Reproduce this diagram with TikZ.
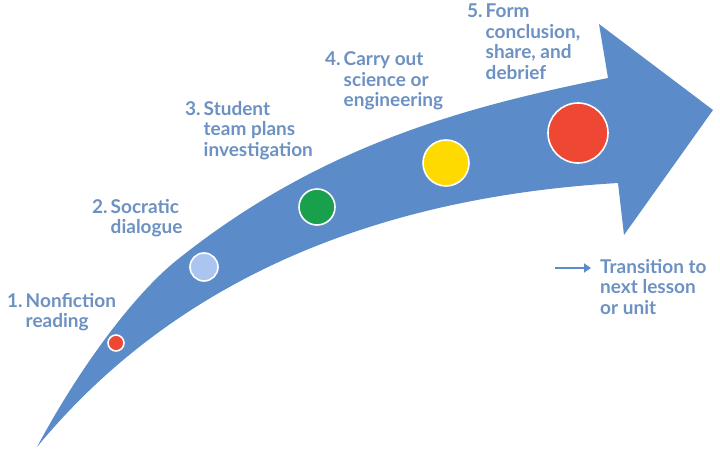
\documentclass[tikz,border=0pt]{standalone}
\usepackage{fontspec}
\setmainfont{Lato}
\usetikzlibrary{arrows.meta}
\definecolor{arrowblue}{RGB}{91,140,201}
\definecolor{labelblue}{RGB}{108,145,194}
\definecolor{dotred}{RGB}{238,72,52}
\definecolor{dotlight}{RGB}{170,198,240}
\definecolor{dotgreen}{RGB}{24,160,76}
\definecolor{dotyellow}{RGB}{255,218,0}
\newcommand{\stepitem}[2]{\begin{tabular}[t]{@{}l@{\hspace{3pt}}l@{}}#1&\begin{tabular}[t]{@{}l@{}}#2\end{tabular}\end{tabular}}
\tikzset{
  stepdot/.style={circle,draw=white,line width=1.6pt,inner sep=0pt},
  steplabel/.style={anchor=base west,inner sep=0pt,text=labelblue}
}
\begin{document}
\begin{tikzpicture}[x=1pt,y=-1pt,every node/.style={font=\fontsize{19}{20.5}\selectfont\bfseries}]
  \useasboundingbox (0,0) rectangle (720,452);
  % arrow body
  \fill[arrowblue] (37,447) .. controls (77,372) and (132,296) .. (177,260)
    .. controls (317,148) and (458,108) .. (608,78) -- (599,24) -- (713,110)
    -- (624,235) -- (618,183) .. controls (330,200) and (150,310) .. (37,447) -- cycle;
  % dots
  \node[stepdot,fill=dotred,minimum size=16pt] (d1) at (116,343) {};
  \node[stepdot,fill=dotlight,minimum size=28pt] (d2) at (204,267) {};
  \node[stepdot,fill=dotgreen,minimum size=36pt] (d3) at (317,207) {};
  \node[stepdot,fill=dotyellow,minimum size=46pt] (d4) at (446,163) {};
  \node[stepdot,fill=dotred,minimum size=60pt] (d5) at (578,133) {};
  % labels
  \node[steplabel] (l1) at (7,307) {\stepitem{1.}{Nonfiction\\reading}};
  \node[steplabel] (l2) at (92,213) {\stepitem{2.}{Socratic\\dialogue}};
  \node[steplabel] (l3) at (185,115) {\stepitem{3.}{Student\\team plans\\investigation}};
  \node[steplabel] (l4) at (325,66) {\stepitem{4.}{Carry out\\science or\\engineering}};
  \node[steplabel] (l5) at (467,18) {\stepitem{5.}{Form\\conclusion,\\share, and\\debrief}};
  \node[steplabel] (trans) at (600,273) {\begin{tabular}[t]{@{}l@{}}Transition to\\next lesson\\or unit\end{tabular}};
  \coordinate (tr0) at (555,268);
  \coordinate (tr1) at (591,268);
  \draw[arrowblue,line width=2.8pt,-{Triangle[width=9pt,length=7pt]}] (tr0) -- (tr1);
\end{tikzpicture}
\end{document}
